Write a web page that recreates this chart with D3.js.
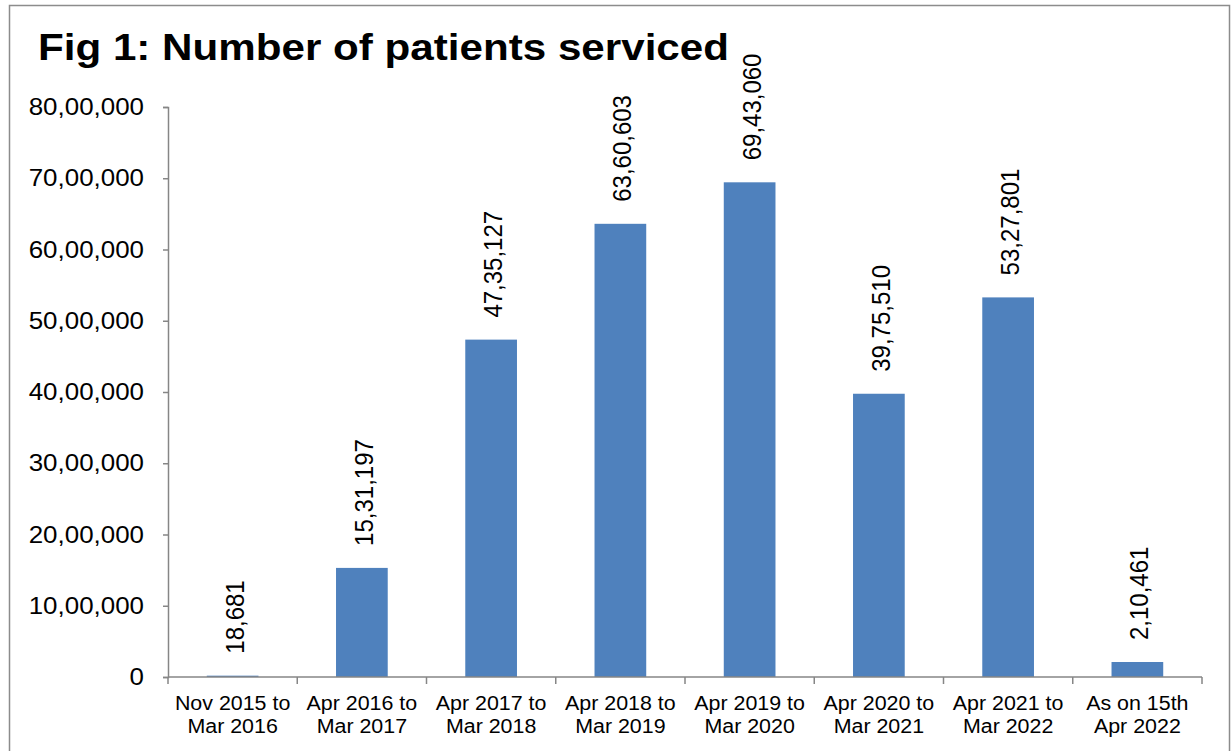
<!DOCTYPE html>
<html>
<head>
<meta charset="utf-8">
<script src="https://cdn.jsdelivr.net/npm/d3@7"></script>
<style>
  body { margin: 0; background: #fff; }
  svg { display: block; font-family: "Liberation Sans", Arial, sans-serif; }
</style>
</head>
<body>
<div id="chart"></div>
<script>
// data
const periods = [
  ["Nov 2015 to", "Mar 2016"],
  ["Apr 2016 to", "Mar 2017"],
  ["Apr 2017 to", "Mar 2018"],
  ["Apr 2018 to", "Mar 2019"],
  ["Apr 2019 to", "Mar 2020"],
  ["Apr 2020 to", "Mar 2021"],
  ["Apr 2021 to", "Mar 2022"],
  ["As on 15th", "Apr 2022"]
];
const patients = [18681, 1531197, 4735127, 6360603, 6943060, 3975510, 5327801, 210461];
const yTicks = [0, 1000000, 2000000, 3000000, 4000000, 5000000, 6000000, 7000000, 8000000];

const width = 1231, height = 751;
const margin = {top: 107, right: 29, bottom: 74, left: 168};

// Indian digit grouping, e.g. 63,60,603
function indian(n) {
  return n.toLocaleString("en-IN");
}

// the source picture is a bit wider than normal Arial, stretch text to match
function stretch(sel, k) {
  sel.each(function() {
    const w = this.getComputedTextLength();
    d3.select(this).attr("textLength", w * k).attr("lengthAdjust", "spacingAndGlyphs");
  });
}

const svg = d3.select("#chart").append("svg")
    .attr("width", width)
    .attr("height", height);

svg.append("rect")
    .attr("x", 9.5).attr("y", 5.5)
    .attr("width", 1220).attr("height", 760)
    .attr("fill", "none")
    .attr("stroke", "#8c8c8c")
    .attr("stroke-width", 1.5);

svg.append("text")
    .attr("x", 38).attr("y", 60)
    .attr("font-size", 37.5)
    .attr("font-weight", "bold")
    .attr("fill", "#000")
    .attr("textLength", 691)
    .attr("lengthAdjust", "spacingAndGlyphs")
    .text("Fig 1: Number of patients serviced");

const x = d3.scaleBand()
    .domain(d3.range(periods.length))
    .range([margin.left, width - margin.right])
    .paddingInner(0.6)
    .paddingOuter(0.3);

const y = d3.scaleLinear()
    .domain([0, 8000000])
    .range([height - margin.bottom, margin.top]);

const axisColor = "#868686";

// y axis
const yAxis = svg.append("g")
    .attr("transform", `translate(${margin.left},0)`)
    .call(d3.axisLeft(y).tickValues(yTicks).tickFormat(indian).tickSize(5).tickPadding(19));
yAxis.selectAll("path, line").attr("stroke", axisColor).attr("stroke-width", 1.5);
yAxis.selectAll("text").attr("font-size", 24).attr("fill", "#000")
    .attr("font-family", "Liberation Sans, Arial, sans-serif");
stretch(yAxis.selectAll("text"), 1.08);

// bars
svg.append("g").selectAll("rect")
    .data(patients)
    .join("rect")
    .attr("x", (d, i) => x(i))
    .attr("y", d => y(d))
    .attr("width", x.bandwidth())
    .attr("height", d => y(0) - y(d))
    .attr("fill", "#4f81bd");

// x axis with ticks at category boundaries
const step = x.step();
const xb = svg.append("g").attr("transform", `translate(0,${y(0)})`);
xb.append("line")
    .attr("x1", margin.left).attr("x2", width - margin.right)
    .attr("stroke", axisColor).attr("stroke-width", 1.5);
xb.selectAll(".tk")
    .data(d3.range(periods.length + 1))
    .join("line")
    .attr("class", "tk")
    .attr("x1", i => margin.left + i * step)
    .attr("x2", i => margin.left + i * step)
    .attr("y1", 0).attr("y2", 7)
    .attr("stroke", axisColor).attr("stroke-width", 1.5);

const cat = xb.selectAll(".cat")
    .data(periods)
    .join("text")
    .attr("class", "cat")
    .attr("text-anchor", "middle")
    .attr("font-size", 20)
    .attr("fill", "#000");
cat.selectAll("tspan")
    .data((d, i) => d.map(s => ({s, i})))
    .join("tspan")
    .attr("x", d => x(d.i) + x.bandwidth() / 2)
    .attr("y", (d, j) => 33 + j * 23)
    .text(d => d.s);
stretch(cat.selectAll("tspan"), 1.07);

// rotated value labels
svg.append("g").selectAll("text")
    .data(patients)
    .join("text")
    .attr("transform", (d, i) => `translate(${x(i) + x.bandwidth() / 2 + 11},${y(d) - 22}) scale(1.08,1) rotate(-90)`)
    .attr("font-size", 24)
    .attr("fill", "#000")
    .text(indian);
</script>
</body>
</html>
